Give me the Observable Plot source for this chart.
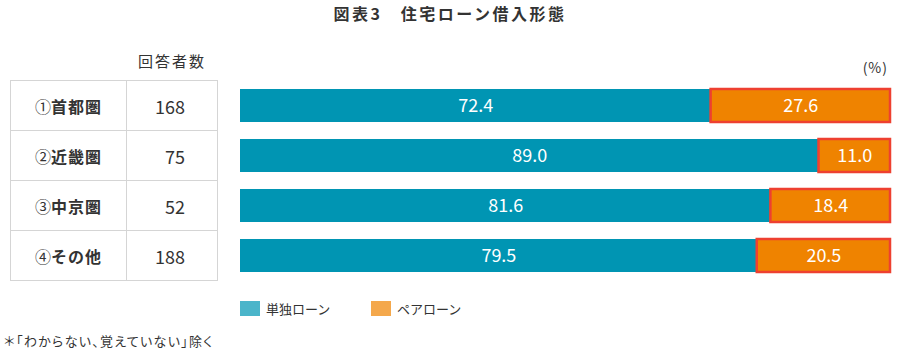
<!DOCTYPE html>
<html><head><meta charset="utf-8">
<script src="https://cdn.jsdelivr.net/npm/d3@7"></script>
<script src="https://cdn.jsdelivr.net/npm/@observablehq/plot@0.6"></script>
<style>
body{margin:0;background:#fff;font-family:"Noto Sans CJK JP","Noto Sans",sans-serif;color:#333;}
#wrap{position:relative;width:900px;height:356px;overflow:hidden;background:#fff;}
#title{position:absolute;left:0;top:0;width:900px;height:26px;line-height:26px;text-align:center;font-weight:700;font-size:16px;letter-spacing:2.5px;color:#333;}
#chart{position:absolute;left:0;top:26px;}
#hdr{position:absolute;left:126px;width:92px;top:50px;height:22px;line-height:22px;text-align:center;font-size:15px;letter-spacing:2px;}
#pct{position:absolute;right:12px;top:56px;height:22px;line-height:22px;font-size:14px;letter-spacing:1px;}
#tbl{position:absolute;left:10px;top:80px;border-collapse:collapse;table-layout:fixed;}
#tbl td{border:1.5px solid #d5d5d5;height:49px;padding:0;}
#tbl td.lab{width:115px;text-align:center;font-weight:700;font-size:16px;letter-spacing:1px;}
#tbl td.lab span{font-weight:400;letter-spacing:0;}
#tbl td.num{width:91px;text-align:right;padding-right:32px;box-sizing:border-box;font-size:18px;font-family:"Noto Sans CJK JP",sans-serif;}
#legend{position:absolute;left:240px;top:299px;display:flex;font-size:13px;}
#legend .it{display:flex;align-items:center;width:131px;}
#legend .sw{width:20px;height:15px;margin-right:6px;}
#note{position:absolute;left:4px;top:331px;font-size:13px;font-feature-settings:"palt";letter-spacing:1.3px;}
</style>
</head><body>
<div id="wrap">
  <div id="title"></div>
  <div id="hdr"></div>
  <div id="pct"></div>
  <table id="tbl"></table>
  <div id="chart"></div>
  <div id="legend"></div>
  <div id="note"></div>
</div>
<script>
const titleText = "図表3　住宅ローン借入形態";
const headerText = "回答者数";
const unitText = "(%)";
const noteText = "＊「わからない、覚えていない」除く";
const circled = ["①", "②", "③", "④"];
const regions = ["首都圏", "近畿圏", "中京圏", "その他"];
const respondents = [168, 75, 52, 188];
const single = [72.4, 89.0, 81.6, 79.5];
const pair = [27.6, 11.0, 18.4, 20.5];
const seriesNames = ["単独ローン", "ペアローン"];
const barColors = ["#0095b3", "#ef8300"];
const legendColors = ["#4bb5ca", "#f4a84c"];
const pairStroke = "#ee4030";

document.getElementById("title").textContent = titleText;
document.getElementById("hdr").textContent = headerText;
document.getElementById("pct").textContent = unitText;
document.getElementById("note").textContent = noteText;

const tbl = document.getElementById("tbl");
regions.forEach((r, i) => {
  const tr = document.createElement("tr");
  const td1 = document.createElement("td");
  td1.className = "lab";
  const sp = document.createElement("span");
  sp.textContent = circled[i];
  td1.appendChild(sp);
  td1.appendChild(document.createTextNode(r));
  const td2 = document.createElement("td");
  td2.className = "num";
  td2.textContent = respondents[i];
  tr.appendChild(td1); tr.appendChild(td2);
  tbl.appendChild(tr);
});

const lg = document.getElementById("legend");
seriesNames.forEach((s, i) => {
  const it = document.createElement("div"); it.className = "it";
  const sw = document.createElement("div"); sw.className = "sw"; sw.style.background = legendColors[i];
  const lb = document.createElement("span"); lb.textContent = s;
  it.appendChild(sw); it.appendChild(lb); lg.appendChild(it);
});

const rows = regions.map((r, i) => ({region: r, single: single[i], pair: pair[i]}));
const fmt = d3.format(".1f");

const chart = Plot.plot({
  width: 900,
  height: 264,
  marginTop: 54,
  marginBottom: 10,
  marginLeft: 240,
  marginRight: 10,
  style: {fontFamily: "Noto Sans CJK JP, sans-serif", background: "transparent"},
  x: {domain: [0, 100], axis: null},
  y: {domain: regions, axis: null, paddingInner: 0.34, paddingOuter: 0.17},
  marks: [
    Plot.barX(rows, {y: "region", x1: 0, x2: "single", fill: barColors[0]}),
    Plot.barX(rows, {y: "region", x1: "single", x2: d => d.single + d.pair, fill: barColors[1], stroke: pairStroke, strokeWidth: 2.5}),
    Plot.text(rows, {y: "region", x: d => d.single / 2, text: d => fmt(d.single), fill: "white", fontSize: 18}),
    Plot.text(rows, {y: "region", x: d => d.single + d.pair / 2, text: d => fmt(d.pair), fill: "white", fontSize: 18})
  ]
});
document.getElementById("chart").appendChild(chart);
</script>
</body></html>
